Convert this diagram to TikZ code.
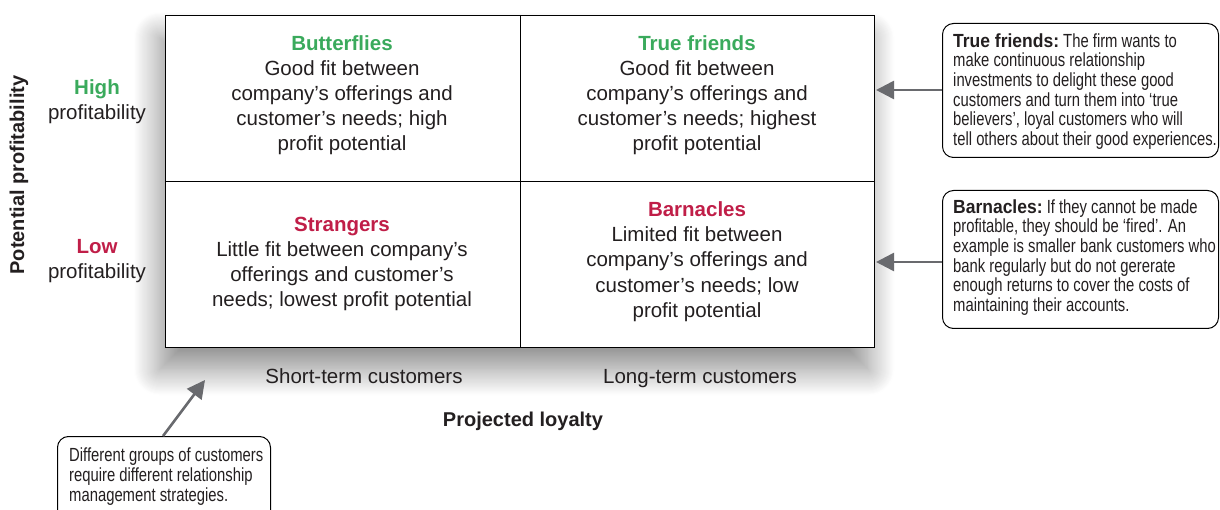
\documentclass[tikz,border=0pt]{standalone}
\usepackage{fontspec}
\usepackage{graphicx}
\setmainfont{Liberation Sans}
\usetikzlibrary{arrows.meta,shadows.blur}
\definecolor{txt}{RGB}{35,31,32}
\definecolor{hgreen}{RGB}{58,170,92}
\definecolor{lred}{RGB}{192,30,72}
\definecolor{arrgray}{RGB}{105,106,110}
\tikzset{
  cell/.style={align=center,text=txt,font=\fontsize{20.5}{25.2}\selectfont,inner sep=0pt},
  axislab/.style={text=txt,font=\fontsize{20.5}{25.5}\selectfont,inner sep=0pt},
  axistitle/.style={text=txt,font=\fontsize{20}{24}\bfseries\selectfont,inner sep=0pt},
  callbox/.style={draw=black,line width=1pt,rounded corners=11pt,fill=white,anchor=north west,inner sep=0pt},
  calltext/.style={anchor=north west,inner sep=0pt,text=txt,font=\fontsize{19}{19.2}\selectfont},
  arr/.style={draw=arrgray,line width=2.6pt,-{Triangle[length=18pt,width=18pt]}}
}
\newcommand{\calhead}[1]{\scalebox{1.18}[1]{\bfseries #1}}
\newcommand{\narrowlines}[1]{\scalebox{0.78}[1]{\begin{tabular}{@{}l@{}}#1\end{tabular}}}
\begin{document}
\begin{tikzpicture}[x=1pt,y=-1pt]
\useasboundingbox (0,0) rectangle (1220,510);
\clip (0,0) rectangle (1220,510);
% grid with shadow
\node[draw=black,line width=1.2pt,fill=white,minimum width=709pt,minimum height=332pt,inner sep=0pt,
  anchor=north west,blur shadow={shadow xshift=-6pt,shadow yshift=-22pt,shadow blur radius=26pt,shadow opacity=45,shadow blur steps=25}]
  (grid) at (165,15) {};
\draw[line width=1.2pt] (grid.north) -- (grid.south);
\draw[line width=1.2pt] (grid.west) -- (grid.east);
% cells
\node[cell,anchor=north] (bf) at (342,35) {{\color{hgreen}\bfseries Butterflies}\\Good fit between\\company’s offerings and\\customer’s needs; high\\profit potential};
\node[cell,anchor=north] (tf) at (697,35) {{\color{hgreen}\bfseries True friends}\\Good fit between\\company’s offerings and\\customer’s needs; highest\\profit potential};
\node[cell,anchor=north] (st) at (342,216.5) {{\color{lred}\bfseries Strangers}\\Little fit between company’s\\offerings and customer’s\\needs; lowest profit potential};
\node[cell,anchor=north] (bn) at (697,201.5) {{\color{lred}\bfseries Barnacles}\\Limited fit between\\company’s offerings and\\customer’s needs; low\\profit potential};
% left axis
\node[axislab,align=center,anchor=north] (hi) at (97,79) {{\color{hgreen}\bfseries High}\\profitability};
\node[axislab,align=center,anchor=north] (lo) at (97,239) {{\color{lred}\bfseries Low}\\profitability};
\node[axistitle,rotate=90] (pp) at (19,175) {Potential profitability};
% bottom axis
\node[axislab,anchor=base] (stc) at (364,383) {Short-term customers};
\node[axislab,anchor=base] (ltc) at (700,383) {Long-term customers};
\node[axistitle,anchor=base] (pl) at (523,426) {Projected loyalty};
% callouts
\node[callbox,minimum width=276pt,minimum height=134pt] (c1) at (942,23) {};
\node[calltext] (c1t) at (953,33.5) {\narrowlines{\calhead{True friends:} The firm wants to\\make continuous relationship\\investments to delight these good\\customers and turn them into ‘true\\believers’, loyal customers who will\\tell others about their good experiences.}};
\node[callbox,minimum width=276pt,minimum height=138pt] (c2) at (942,190) {};
\node[calltext] (c2t) at (953,199.5) {\narrowlines{\calhead{Barnacles:} If they cannot be made\\profitable, they should be ‘fired’. An\\example is smaller bank customers who\\bank regularly but do not gererate\\enough returns to cover the costs of\\maintaining their accounts.}};
\node[callbox,minimum width=213pt,minimum height=95pt] (c3) at (57,436) {};
\node[calltext,font=\fontsize{19}{20}\selectfont] (c3t) at (69,447) {\narrowlines{Different groups of customers\\require different relationship\\management strategies.}};
% arrows
\coordinate (a1) at (876,90);
\coordinate (a2) at (876,262);
\coordinate (a3s) at (163,436);
\coordinate (a3) at (205,380);
\draw[arr] (c1.west |- a1) -- (a1);
\draw[arr] (c2.west |- a2) -- (a2);
\draw[arr] (a3s) -- (a3);
\end{tikzpicture}
\end{document}
